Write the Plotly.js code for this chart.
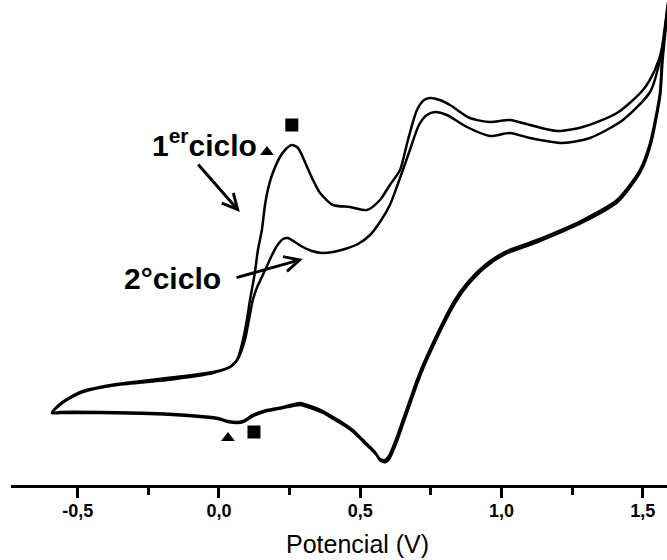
<!DOCTYPE html>
<html>
<head>
<meta charset="utf-8">
<script src="https://cdn.plot.ly/plotly-3.0.1.min.js"></script>
<style>
  html, body { margin: 0; padding: 0; background: #ffffff; }
  #chart { width: 667px; height: 560px; }
</style>
</head>
<body>
<div id="chart"></div>
<script>
// Potential (V) and current (arbitrary units)
const cycle1Potential = [
  -0.591, -0.563, -0.538, -0.481, -0.361, -0.184, -0.021, 0.039, 0.064, 0.085, 0.099, 0.110,
  0.127, 0.138, 0.152, 0.163, 0.173, 0.188, 0.216, 0.237, 0.258, 0.280, 0.312, 0.333, 0.358,
  0.404, 0.464, 0.524, 0.570, 0.605, 0.641, 0.669, 0.701, 0.726, 0.747, 0.782, 0.818, 0.888,
  0.959, 1.030, 1.101, 1.196, 1.288, 1.409, 1.501, 1.543, 1.572, 1.589,
  1.568, 1.561, 1.526, 1.490, 1.409, 1.288, 1.126, 1.012, 0.942, 0.881, 0.835, 0.793, 0.754,
  0.722, 0.701, 0.676, 0.651, 0.630, 0.616, 0.602, 0.588, 0.570, 0.552, 0.535, 0.510, 0.474,
  0.439, 0.404, 0.368, 0.333, 0.287, 0.227, 0.170, 0.120, 0.085, 0.064, 0.032, -0.004, -0.067,
  -0.244, -0.421, -0.563, -0.591
];
const cycle1Current = [
  -1.3, -0.5, 0.0, 0.8, 1.5, 2.0, 2.7, 3.3, 4.0, 6.0, 8.0, 10.0,
  12.7, 15.0, 17.0, 19.5, 21.0, 22.5, 24.3, 25.1, 25.5, 25.2, 23.3, 22.0, 20.7,
  19.5, 19.3, 19.0, 20.0, 21.5, 23.0, 26.0, 29.0, 30.0, 30.2, 30.0, 29.5, 28.2,
  27.8, 28.0, 27.5, 26.9, 27.3, 28.7, 31.0, 33.0, 35.5, 39.7,
  34.0, 30.7, 25.7, 23.0, 20.0, 18.0, 16.0, 14.8, 13.5, 11.8, 10.0, 7.8, 5.5,
  3.5, 2.0, 0.0, -2.0, -3.7, -4.7, -5.6, -6.0, -5.9, -5.2, -4.7, -4.0, -3.0,
  -2.3, -1.7, -1.1, -0.7, -0.3, -0.7, -1.0, -1.5, -2.1, -2.2, -2.1, -1.8, -1.6,
  -1.3, -1.2, -1.2, -1.3
];
const cycle2Potential = [
  -0.591, -0.563, -0.538, -0.481, -0.361, -0.184, -0.021, 0.039, 0.067, 0.092, 0.106, 0.120,
  0.134, 0.152, 0.170, 0.188, 0.205, 0.227, 0.244, 0.269, 0.297, 0.329, 0.365, 0.404, 0.446,
  0.492, 0.535, 0.570, 0.605, 0.641, 0.676, 0.708, 0.736, 0.765, 0.807, 0.878, 0.959, 1.030,
  1.101, 1.218, 1.313, 1.430, 1.526, 1.561, 1.589,
  1.570, 1.562, 1.528, 1.492, 1.411, 1.290, 1.128, 1.014, 0.944, 0.884, 0.838, 0.796, 0.757,
  0.725, 0.704, 0.679, 0.654, 0.633, 0.619, 0.605, 0.591, 0.573, 0.555, 0.538, 0.512, 0.476,
  0.441, 0.405, 0.369, 0.334, 0.288, 0.228, 0.171, 0.121, 0.086, 0.064, 0.032, -0.004, -0.067,
  -0.244, -0.421, -0.563, -0.591
];
const cycle2Current = [
  -1.3, -0.4, 0.1, 0.9, 1.6, 2.2, 2.8, 3.3, 4.1, 6.0, 8.0, 10.0,
  11.2, 12.3, 13.4, 14.5, 15.4, 16.1, 16.2, 15.8, 15.3, 14.9, 14.7, 14.8, 15.1,
  15.6, 16.5, 17.8, 19.5, 22.2, 25.0, 27.5, 28.5, 28.8, 28.5, 27.3, 26.4, 26.7,
  26.2, 25.7, 26.2, 28.0, 30.8, 34.0, 39.5,
  33.8, 30.5, 25.5, 22.8, 19.8, 17.8, 15.8, 14.6, 13.3, 11.6, 9.8, 7.6, 5.3,
  3.3, 1.8, -0.2, -2.2, -3.9, -4.9, -5.8, -6.2, -6.1, -5.4, -4.9, -4.2, -3.2,
  -2.5, -1.9, -1.3, -0.9, -0.5, -0.8, -1.1, -1.6, -2.2, -2.3, -2.2, -1.9, -1.7,
  -1.4, -1.3, -1.3, -1.3
];

// Peak markers (triangle / square)
const markerPotential = [0.170, 0.258, 0.032, 0.124];
const markerCurrent = [24.8, 27.5, -3.8, -3.2];
const markerSymbols = ['triangle-up', 'square', 'triangle-up', 'square'];
const markerSizes = [12, 13, 12, 13];

// Axis ticks
const tickValues = [-0.5, 0.0, 0.5, 1.0, 1.5];
const tickLabels = ['-0,5', '0,0', '0,5', '1,0', '1,5'];
const minorTickValues = [-0.25, 0.25, 0.75, 1.25];
const axisTitle = 'Potencial (V)';

// Labels
const cycleLabels = ['1<sup>er</sup>ciclo', '2°ciclo'];
const labelPotential = [-0.050, -0.163];
const labelCurrent = [25.7, 12.2];
const arrowHeadPotential = [0.074, 0.297];
const arrowHeadCurrent = [18.8, 14.1];
const arrowTailPotential = [-0.078, 0.057];
const arrowTailCurrent = [23.7, 12.2];

const FONT = '"Liberation Sans", Arial, Helvetica, sans-serif';

const lineStyle = { color: '#000000', width: 2.5, shape: 'spline', smoothing: 0.7 };

const traces = [
  { x: cycle1Potential, y: cycle1Current, type: 'scatter', mode: 'lines', line: lineStyle, name: '1er ciclo', hoverinfo: 'skip' },
  { x: cycle2Potential, y: cycle2Current, type: 'scatter', mode: 'lines', line: lineStyle, name: '2° ciclo', hoverinfo: 'skip' },
  { x: markerPotential, y: markerCurrent, type: 'scatter', mode: 'markers', opacity: 1,
    marker: { symbol: markerSymbols, size: markerSizes, color: '#000000', opacity: 1, line: { width: 0 } },
    hoverinfo: 'skip' }
];

const annotations = [];
for (let i = 0; i < cycleLabels.length; i++) {
  annotations.push({
    x: labelPotential[i], y: labelCurrent[i], xref: 'x', yref: 'y',
    text: cycleLabels[i], showarrow: false, xanchor: 'center', yanchor: 'middle',
    font: { family: FONT, size: 30, color: '#000000', weight: 700 }
  });
  annotations.push({
    x: arrowHeadPotential[i], y: arrowHeadCurrent[i], xref: 'x', yref: 'y',
    ax: arrowTailPotential[i], ay: arrowTailCurrent[i], axref: 'x', ayref: 'y',
    text: '', showarrow: true, arrowhead: 5, arrowsize: 1, arrowwidth: 3, arrowcolor: '#000000'
  });
}
// x-axis title, placed under the axis
annotations.push({
  x: 0.489, y: -0.122, xref: 'x', yref: 'paper',
  text: axisTitle, showarrow: false, xanchor: 'center', yanchor: 'middle',
  font: { family: FONT, size: 25, color: '#000000' }
});

const layout = {
  width: 667, height: 560,
  margin: { l: 11, r: 0, t: 0, b: 75 },
  paper_bgcolor: '#ffffff', plot_bgcolor: '#ffffff',
  showlegend: false,
  font: { family: FONT, color: '#000000' },
  xaxis: {
    range: [-0.736, 1.586],
    showgrid: false, zeroline: false,
    showline: true, linecolor: '#000000', linewidth: 3,
    ticks: 'outside', ticklen: 10, tickwidth: 3, tickcolor: '#000000',
    tickmode: 'array', tickvals: tickValues, ticktext: tickLabels,
    ticklabelstandoff: -3,
    tickfont: { family: FONT, size: 18, color: '#000000', weight: 700 },
    minor: { tickmode: 'array', tickvals: minorTickValues, ticks: 'outside', ticklen: 7, tickwidth: 3, tickcolor: '#000000', showgrid: false }
  },
  yaxis: {
    range: [-8.5, 40],
    visible: false, showgrid: false, zeroline: false
  },
  annotations: annotations
};

Plotly.newPlot('chart', traces, layout, { staticPlot: true, displayModeBar: false });
</script>
</body>
</html>
